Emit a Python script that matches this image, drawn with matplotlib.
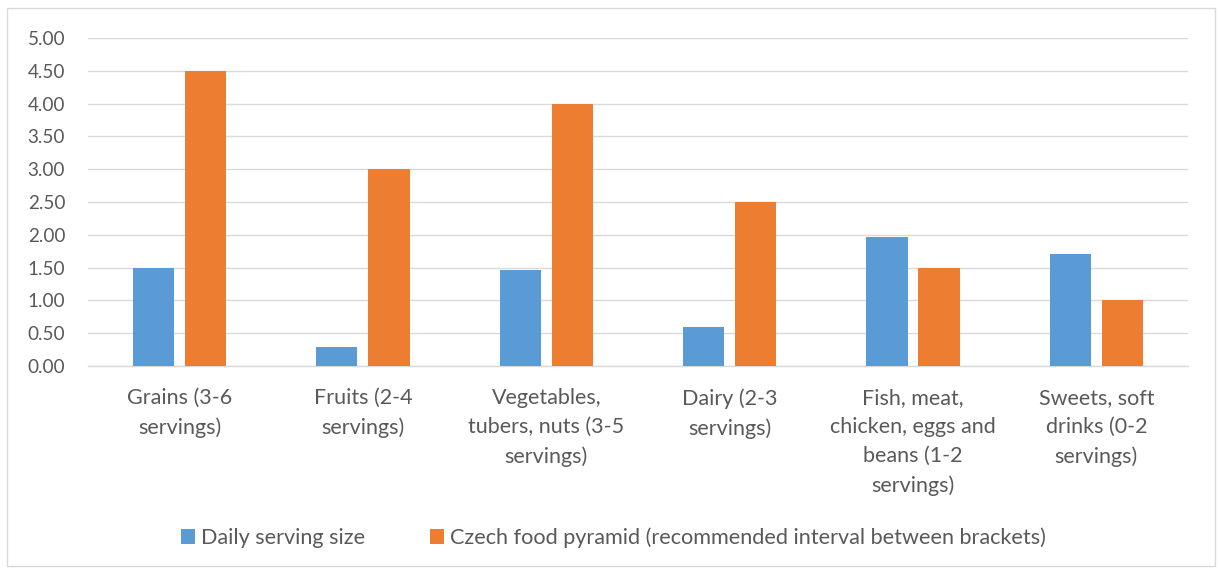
import matplotlib
matplotlib.use("Agg")
import matplotlib.pyplot as plt
import numpy as np
from matplotlib.patches import Rectangle

categories = ["Grains (3-6\nservings)", "Fruits (2-4\nservings)", "Vegetables,\ntubers, nuts (3-5\nservings)",
              "Dairy (2-3\nservings)", "Fish, meat,\nchicken, eggs and\nbeans (1-2\nservings)", "Sweets, soft\ndrinks (0-2\nservings)"]
daily = [1.50, 0.29, 1.47, 0.59, 1.96, 1.71]
pyramid = [4.50, 3.00, 4.00, 2.50, 1.50, 1.00]
yticks = [0.0, 0.5, 1.0, 1.5, 2.0, 2.5, 3.0, 3.5, 4.0, 4.5, 5.0]
series_names = ["Daily serving size", "Czech food pyramid (recommended interval between brackets)"]

BLUE = "#5b9bd5"
ORANGE = "#ed7d31"
GRAY = "#595959"
plt.rcParams['font.family'] = ['Lato', 'DejaVu Sans']

W, H = 1220, 572
fig = plt.figure(figsize=(W/100, H/100), dpi=100)
fig.patches.append(Rectangle((7/W, 1 - 566/H), (1215-7)/W, (566-8)/H, transform=fig.transFigure,
                             fill=False, edgecolor="#d9d9d9", linewidth=1))
ax = fig.add_axes([88/W, 1 - 366/H, (1188-88)/W, (366-38)/H])

x = np.arange(len(categories))
bw = 0.224
off = 0.142
ax.bar(x - off, daily, bw, color=BLUE, label=series_names[0], zorder=3)
ax.bar(x + off, pyramid, bw, color=ORANGE, label=series_names[1], zorder=3)

ax.set_xlim(-0.5, len(categories) - 0.5)
ax.set_ylim(0, 5.0)
ax.set_yticks(yticks)
ax.set_yticklabels([f"{v:.2f}" for v in yticks], color=GRAY, fontsize=13.6)
ax.set_xticks(x)
ax.set_xticklabels(categories, color=GRAY, fontsize=15.5, linespacing=1.56, va="top")
ax.tick_params(axis="x", length=0, pad=16)
ax.tick_params(axis="y", length=0, pad=16.5)
ax.grid(axis="y", color="#d9d9d9", linewidth=1, zorder=0)
for s in ["top", "right", "left"]:
    ax.spines[s].set_visible(False)
ax.spines["bottom"].set_color("#d9d9d9")
ax.spines["bottom"].set_linewidth(1)

leg = fig.legend(loc="center", bbox_to_anchor=(613/W, 1 - 538/H), ncol=2, frameon=False,
                 fontsize=15.6, handlelength=0.65, handleheight=0.65, handletextpad=0.27,
                 columnspacing=3.0)
for t in leg.get_texts():
    t.set_color(GRAY)

fig.savefig("out.png", dpi=100)
